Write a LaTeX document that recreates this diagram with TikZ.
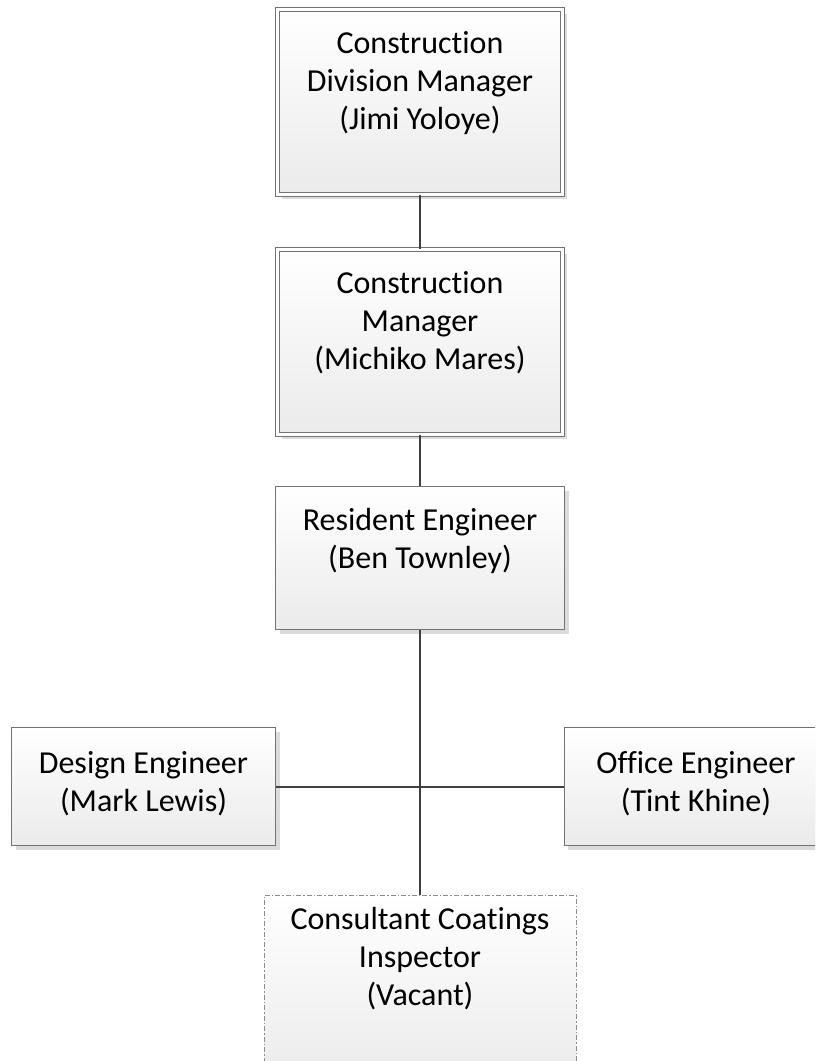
\documentclass[tikz,border=0pt]{standalone}
\usepackage{fontspec}
\setmainfont{Carlito}[RawFeature={-liga;-clig;-dlig}]
\usetikzlibrary{shadows}

\tikzset{
  orgbox/.style={draw=black!55, line width=0.8pt, top color=white, bottom color=black!8,
    general shadow={fill=black!14, shadow xshift=4pt, shadow yshift=-4pt}, inner sep=0pt},
  dblbox/.style={orgbox, double=white, double distance=3.6pt},
  vacbox/.style={draw=black!45, line width=0.8pt, dash pattern=on 5pt off 2pt on 1.5pt off 2pt,
    top color=white, bottom color=black!8, inner sep=0pt},
  boxtext/.style={anchor=north, align=center, inner sep=0pt, font=\fontsize{32}{38}\selectfont},
  link/.style={draw=black!75, line width=2pt}
}

\begin{document}
\begin{tikzpicture}[x=1pt,y=-1pt]
  \useasboundingbox (0,0) rectangle (815,1061);
  \clip (0,0) rectangle (815,1061);

  % boxes
  \node[dblbox, minimum width=285pt, minimum height=185pt] (cdm) at (420,102) {};
  \node[dblbox, minimum width=285pt, minimum height=185pt] (cm) at (420,342) {};
  \node[orgbox, minimum width=289pt, minimum height=143pt] (re) at (420,558) {};
  \node[orgbox, minimum width=264pt, minimum height=118pt] (de) at (143.5,786.5) {};
  \node[orgbox, minimum width=264pt, minimum height=118pt] (oe) at (696,786.5) {};
  \node[vacbox, minimum width=312pt, minimum height=190pt] (cci) at (420,990) {};

  % connectors
  \draw[link] (cdm.south) -- (cm.north);
  \draw[link] (cm.south) -- (re.north);
  \draw[link] (re.south) -- (cci.north);
  \draw[link] (de.east) -- (oe.west);

  % texts
  \node[boxtext] (cdmtxt) at ([yshift=-22.5pt]cdm.north) {Construction\\Division Manager\\(Jimi Yoloye)};
  \node[boxtext] (cmtxt) at ([yshift=-22.5pt]cm.north) {Construction\\Manager\\(Michiko Mares)};
  \node[boxtext] (retxt) at ([yshift=-22pt]re.north) {Resident Engineer\\(Ben Townley)};
  \node[boxtext] (detxt) at ([yshift=-24pt]de.north) {Design Engineer\\(Mark Lewis)};
  \node[boxtext] (oetxt) at ([yshift=-24pt]oe.north) {Office Engineer\\(Tint Khine)};
  \node[boxtext] (ccitxt) at ([yshift=-12.5pt]cci.north) {Consultant Coatings\\Inspector\\(Vacant)};
\end{tikzpicture}
\end{document}
